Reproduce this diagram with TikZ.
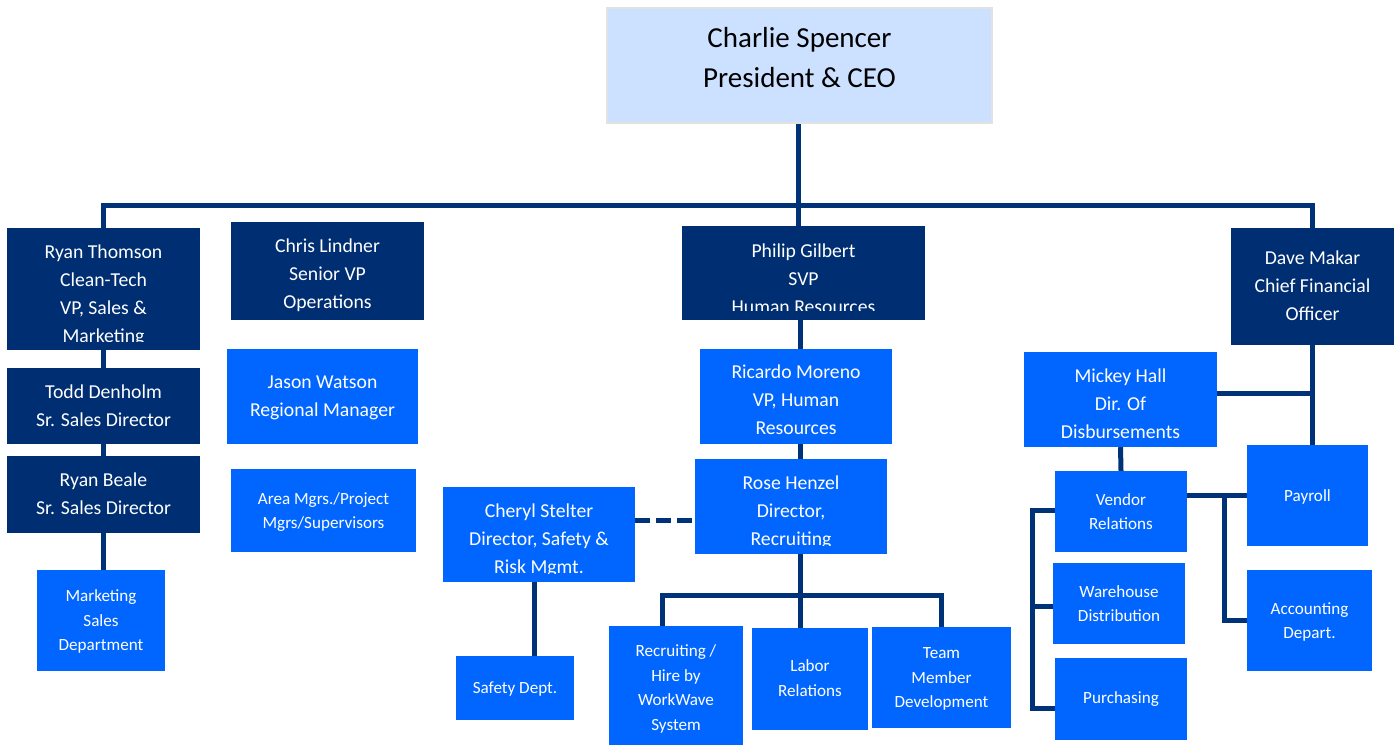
\documentclass[tikz,border=0pt]{standalone}
\usepackage{fontspec}
\setmainfont{Carlito}
\usetikzlibrary{backgrounds}
\definecolor{navy}{RGB}{0,46,114}
\definecolor{linec}{RGB}{0,50,120}
\definecolor{bright}{RGB}{0,102,255}
\definecolor{ceofill}{RGB}{204,224,255}
\definecolor{ceoline}{RGB}{226,226,226}
\newcommand\dn[2]{\raisebox{-#1}[\height][\depth]{\begin{tabular}{@{}c@{}}#2\end{tabular}}}
\begin{document}
\begin{tikzpicture}[x=1pt,y=-1pt,
  box/.style={rectangle, inner sep=0pt, text=white},
  bigfont/.style={font=\fontsize{19.7}{28}\selectfont},
  darkbox/.style={box, fill=navy, bigfont},
  namebox/.style={box, fill=bright, bigfont},
  deptbox/.style={box, fill=bright, font=\fontsize{17.1}{24.5}\selectfont},
  cliptext/.style={box, bigfont},
  conn/.style={draw=linec, line width=5pt},
  dotted conn/.style={conn, dash pattern=on 15pt off 6pt}]
\useasboundingbox (0,0) rectangle (1399,745);

\node[box, fill=ceofill, draw=ceoline, line width=1.5pt, text=black,
  font=\fontsize{29}{40}\selectfont, minimum width=385, minimum height=115]
  (ceo) at (799.5,65.5) {\dn{-6pt}{Charlie Spencer\\President \& CEO}};

% boxes whose last line is cut off at the bottom
\node[darkbox, minimum width=193, minimum height=122] (ryan) at (103.5,289) {};
\begin{scope}
  \clip (ryan.north west) rectangle ([yshift=9pt]ryan.south east);
  \node[cliptext] (ryantxt) at (ryan.center)
    {\dn{6pt}{Ryan Thomson\\Clean-Tech\\VP, Sales \&\\Marketing}};
\end{scope}
\node[darkbox, minimum width=243, minimum height=94] (philip) at (803.5,273) {};
\begin{scope}
  \clip (philip.north west) rectangle ([yshift=10pt]philip.south east);
  \node[cliptext] (philiptxt) at (philip.center)
    {\dn{7pt}{Philip Gilbert\\SVP\\Human Resources}};
\end{scope}
\node[namebox, minimum width=192, minimum height=95] (rose) at (791,506.5) {};
\begin{scope}
  \clip (rose.north west) rectangle ([yshift=9pt]rose.south east);
  \node[cliptext] (rosetxt) at (rose.center)
    {\dn{5pt}{Rose Henzel\\Director,\\Recruiting}};
\end{scope}
\node[namebox, minimum width=192, minimum height=95] (cheryl) at (539,534.5) {};
\begin{scope}
  \clip (cheryl.north west) rectangle ([yshift=9pt]cheryl.south east);
  \node[cliptext] (cheryltxt) at (cheryl.center)
    {\dn{5pt}{Cheryl Stelter\\Director, Safety \&\\Risk Mgmt.}};
\end{scope}

\node[darkbox, minimum width=193, minimum height=98] (chris) at (327.5,271)
  {\dn{4pt}{Chris Lindner\\Senior VP\\Operations}};
\node[darkbox, minimum width=163, minimum height=117] (dave) at (1312.5,286.5)
  {\dn{0pt}{Dave Makar\\Chief Financial\\Officer}};
\node[darkbox, minimum width=193, minimum height=76] (todd) at (103.5,406)
  {\dn{1pt}{Todd Denholm\\Sr. Sales Director}};
\node[darkbox, minimum width=193, minimum height=77] (beale) at (103.5,494.5)
  {\dn{0pt}{Ryan Beale\\Sr. Sales Director}};

\node[deptbox, minimum width=128, minimum height=101] (mkt) at (101,620.5)
  {\dn{1pt}{Marketing\\Sales\\Department}};
\node[namebox, minimum width=191, minimum height=95] (jason) at (322.5,396.5)
  {\dn{0pt}{Jason Watson\\Regional Manager}};
\node[deptbox, minimum width=185, minimum height=83] (area) at (323.5,510.5)
  {\dn{1pt}{Area Mgrs./Project\\Mgrs/Supervisors}};
\node[namebox, minimum width=192, minimum height=95] (ricardo) at (796,396.5)
  {\dn{4pt}{Ricardo Moreno\\VP, Human\\Resources}};
\node[deptbox, minimum width=118, minimum height=64] (safety) at (515,688)
  {\dn{1pt}{Safety Dept.}};
\node[deptbox, minimum width=134, minimum height=119] (recr) at (676,685.5)
  {\dn{3pt}{Recruiting /\\Hire by\\WorkWave\\System}};
\node[deptbox, minimum width=116, minimum height=102] (labor) at (810,679)
  {\dn{0pt}{Labor\\Relations}};
\node[deptbox, minimum width=139, minimum height=101] (team) at (941.5,677.5)
  {\dn{1pt}{Team\\Member\\Development}};
\node[namebox, minimum width=193, minimum height=95] (mickey) at (1120.5,399.5)
  {\dn{5pt}{Mickey Hall\\Dir. Of\\Disbursements}};
\node[deptbox, minimum width=132, minimum height=81] (vendor) at (1121,511.5)
  {\dn{1pt}{Vendor\\Relations}};
\node[deptbox, minimum width=121, minimum height=101] (payroll) at (1307.5,495.5)
  {\dn{1pt}{Payroll}};
\node[deptbox, minimum width=125, minimum height=101] (acct) at (1309.5,620.5)
  {\dn{1pt}{Accounting\\Depart.}};
\node[deptbox, minimum width=132, minimum height=81] (ware) at (1119,603.5)
  {\dn{1pt}{Warehouse\\Distribution}};
\node[deptbox, minimum width=132, minimum height=82] (purch) at (1121,699)
  {\dn{0pt}{Purchasing}};

\coordinate (bus) at (0,205);
\coordinate (subbus) at (0,595);
\coordinate (lbus) at (1032,0);
\coordinate (rbranch) at (1224,0);
\coordinate (dashy) at (0,520);
\coordinate (mickeyy) at (0,393);
\coordinate (vendy) at (0,510);
\coordinate (warey) at (0,606);
\coordinate (purchy) at (0,708);

\begin{pgfonlayer}{background}
  % CEO to the bus and Philip
  \draw[conn] ([xshift=-1.5pt]ceo.south) -- ([xshift=-1.5pt]ceo.south |- philip.north);
  \draw[conn] (ryan.north) -- (ryan.north |- bus) -- (dave.north |- bus) -- (dave.north);
  % Ryan Thomson chain
  \draw[conn] (ryan.south) -- (ryan.south |- mkt.north);
  % HR chain
  \draw[conn] ([xshift=-3.5pt]philip.south) -- ([xshift=-3.5pt]philip.south |- labor.north);
  \draw[conn] ([xshift=-14pt]recr.north) -- ([xshift=-14pt]recr.north |- subbus)
     -- (team.north |- subbus) -- (team.north);
  \draw[dotted conn] (cheryl.east |- dashy) -- (rose.west |- dashy);
  \draw[conn] ([xshift=-5pt]cheryl.south) -- ([xshift=-5pt]cheryl.south |- safety.north);
  % Finance
  \draw[conn] (dave.south) -- (dave.south |- payroll.north);
  \draw[conn] (mickey.east |- mickeyy) -- (dave.south |- mickeyy);
  \draw[conn] (mickey.south) -- (vendor.north);
  \draw[conn] (vendor.east |- payroll.west) -- (payroll.west);
  \draw[conn] (rbranch |- payroll.west) |- (acct.west);
  \draw[conn] (vendor.west |- vendy) -- (lbus |- vendy) -- (lbus |- purchy) -- (purch.west |- purchy);
  \draw[conn] (lbus |- warey) -- (ware.west |- warey);
\end{pgfonlayer}
\end{tikzpicture}
\end{document}
